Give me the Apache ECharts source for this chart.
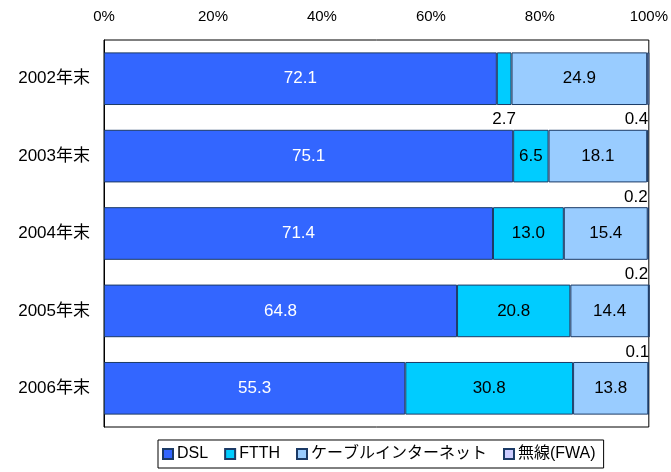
<!DOCTYPE html>
<html>
<head>
<meta charset="utf-8">
<script src="https://cdn.jsdelivr.net/npm/echarts@6/dist/echarts.min.js"></script>
<style>
  html, body { margin: 0; padding: 0; background: #fff; }
  #chart { width: 671px; height: 472px; }
</style>
</head>
<body>
<div id="chart"></div>
<script>
// Broadband subscriber share by access type (%, year end)
const categories = ['2002年末', '2003年末', '2004年末', '2005年末', '2006年末'];
const dsl   = [72.1, 75.1, 71.4, 64.8, 55.3];
const ftth  = [2.7, 6.5, 13.0, 20.8, 30.8];
const cable = [24.9, 18.1, 15.4, 14.4, 13.8];
const fwa   = [0.4, 0.2, 0.2, 0.1, 0.1];
const xTicks = [0, 20, 40, 60, 80, 100];

const FONT = '"Liberation Sans", Arial, "Noto Sans CJK JP", sans-serif';
const EDGE = '#1b3a66';

function fmt(v) { return v.toFixed(1); }

// Small slices get their value written just under the bar instead of inside it.
function sliceData(values, opts) {
  return values.map((v, i) => {
    const item = { value: v };
    if (opts.allBelow || v < 5) {
      item.label = {
        show: opts.hideLast ? i < values.length - 1 : true,
        position: 'bottom',
        distance: 6,
        align: opts.allBelow ? 'right' : 'center',
        color: '#000'
      };
    }
    return item;
  });
}

function barSeries(name, values, color, textColor, opts) {
  return {
    name: name,
    type: 'bar',
    stack: 'share',
    clip: false,
    barCategoryGap: '32%',
    data: sliceData(values, opts || {}),
    itemStyle: { color: color, borderColor: EDGE, borderWidth: 1 },
    label: {
      show: true,
      position: 'inside',
      color: textColor,
      fontFamily: FONT,
      fontSize: 17,
      formatter: p => fmt(p.value)
    },
    emphasis: { disabled: true }
  };
}

const chart = echarts.init(document.getElementById('chart'), null, { renderer: 'canvas' });
chart.setOption({
  animation: false,
  textStyle: { fontFamily: FONT },
  grid: {
    left: 104, right: 19, top: 40, bottom: 45,
    show: true, borderColor: '#000', borderWidth: 1, backgroundColor: '#fff'
  },
  xAxis: {
    type: 'value',
    position: 'top',
    min: xTicks[0],
    max: xTicks[xTicks.length - 1],
    interval: xTicks[1] - xTicks[0],
    axisLine: { show: false },
    axisTick: { show: false },
    splitLine: { show: false },
    axisLabel: {
      formatter: '{value}%',
      color: '#000',
      fontSize: 15,
      fontFamily: FONT,
      margin: 16
    }
  },
  yAxis: {
    type: 'category',
    inverse: true,
    data: categories,
    axisLine: { show: true, lineStyle: { color: '#000', width: 1 } },
    axisTick: { show: false },
    axisLabel: { color: '#000', fontSize: 17, fontFamily: FONT, margin: 14 }
  },
  legend: {
    left: 158,
    bottom: 4,
    orient: 'horizontal',
    icon: 'rect',
    itemWidth: 10,
    itemHeight: 10,
    itemGap: 16,
    padding: [6, 8, 6, 4],
    borderColor: '#000',
    borderWidth: 1,
    selectedMode: false,
    textStyle: { color: '#000', fontSize: 16, fontFamily: FONT, padding: [0, 0, 0, -1] },
    data: ['DSL', 'FTTH', 'ケーブルインターネット', '無線(FWA)']
  },
  series: [
    barSeries('DSL', dsl, '#3366ff', '#fff'),
    barSeries('FTTH', ftth, '#00ccff', '#000'),
    barSeries('ケーブルインターネット', cable, '#99ccff', '#000'),
    barSeries('無線(FWA)', fwa, '#ccccff', '#000', { allBelow: true, hideLast: true })
  ]
});
</script>
</body>
</html>
